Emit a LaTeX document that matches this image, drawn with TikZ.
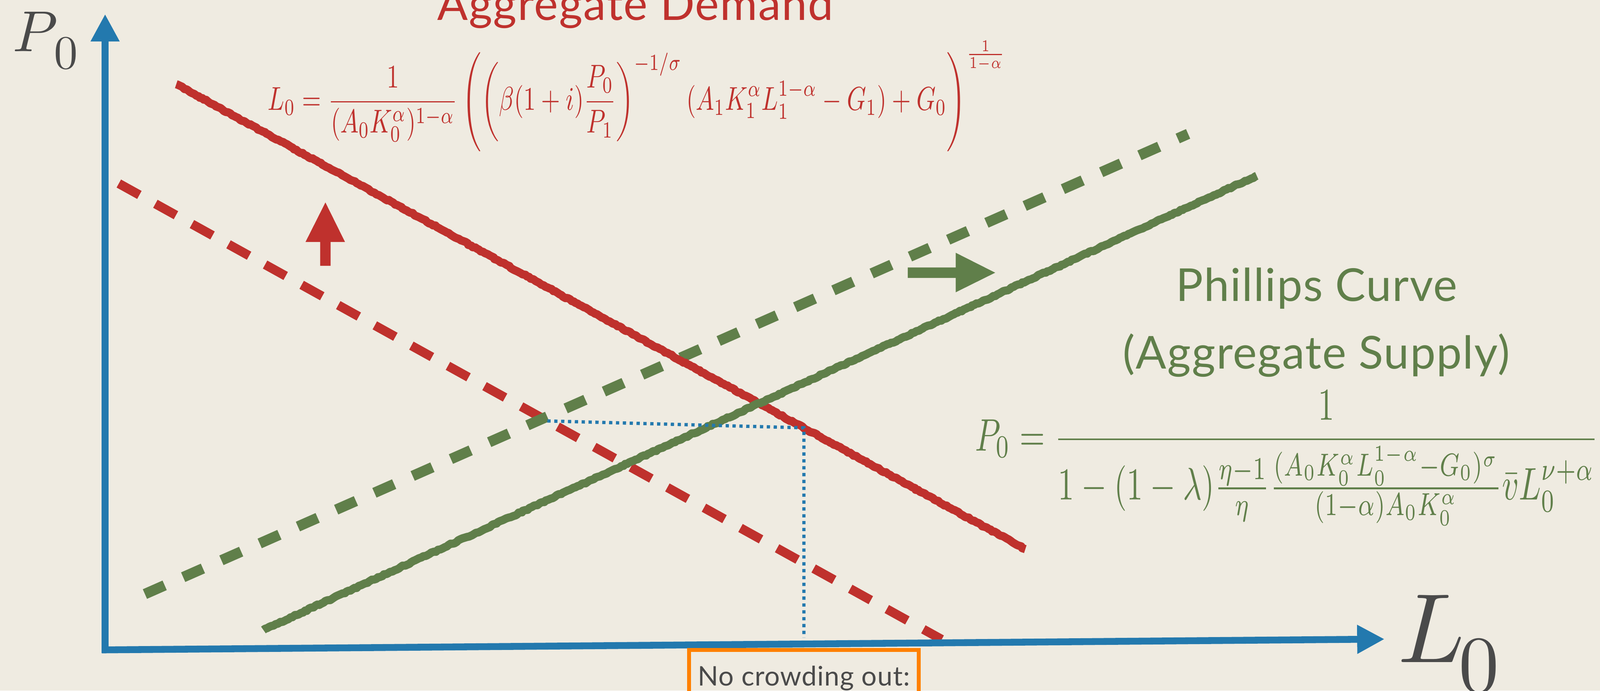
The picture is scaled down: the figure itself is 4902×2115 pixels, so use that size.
\documentclass[tikz,border=0pt]{standalone}
\usepackage{fontspec}
\usepackage{amsmath}
\usepackage{graphicx}
\usetikzlibrary{arrows.meta,decorations.pathmorphing}
\newfontfamily\avenir{Lato}[LetterSpace=2]
\definecolor{bgc}{HTML}{EFEBE1}
\definecolor{adred}{HTML}{BF312D}
\definecolor{pcgreen}{HTML}{607F4A}
\definecolor{axblue}{HTML}{2379AE}
\definecolor{txtgray}{HTML}{4A4A4A}
\definecolor{boxorange}{HTML}{FF8000}
\newcommand{\axlabel}[1]{\mbox{$#1$\kern-0.06em\raisebox{-0.3em}{\scalebox{0.82}{0}}}}
\begin{document}
\begin{tikzpicture}[x=0.01cm,y=-0.01cm,
  axisline/.style={draw=axblue, line width=0.21cm, -{Triangle[length=0.84cm,width=0.83cm]}},
  chalk/.style={line join=round, decorate, decoration={random steps, segment length=0.07cm, amplitude=0.02cm}},
  adsolid/.style={draw=adred, line width=0.25cm, chalk},
  addash/.style={draw=adred, line width=0.28cm, dash pattern=on 0.72cm off 0.56cm},
  pcsolid/.style={draw=pcgreen, line width=0.25cm, chalk},
  pcdash/.style={draw=pcgreen, line width=0.32cm, dash pattern=on 0.66cm off 0.62cm},
  guide/.style={draw=axblue, line width=0.1cm, dash pattern=on 0.1cm off 0.11cm},
  sanslabel/.style={font=\avenir\fontsize{39.5}{42}\selectfont, inner sep=0},
  eqlabel/.style={anchor=base west, inner sep=0}]
\useasboundingbox (0,0) rectangle (4902,2115);
\clip (0,0) rectangle (4902,2115);
\fill[bgc] (0,0) rectangle (4902,2115);

% coordinates
\coordinate (ybot) at (322,2000);
\coordinate (ytip) at (322,43);
\coordinate (xleft) at (312,1990);
\coordinate (xtip) at (4242,1957);
\coordinate (adA) at (540,258);
\coordinate (adB) at (3142,1682);
\coordinate (ad2A) at (364,562);
\coordinate (ad2B) at (2885,1958);
\coordinate (pcA) at (807,1929);
\coordinate (pcB) at (3851,538);
\coordinate (pc2A) at (444,1819);
\coordinate (pc2B) at (3640,410);
\coordinate (g1) at (1677,1289);
\coordinate (g2) at (2463,1310);
\coordinate (g3) at (2463,1953);

% curves
\draw[addash] (ad2A) -- (ad2B);
\draw[pcdash] (pc2A) -- (pc2B);
\draw[adsolid] (adA) -- (adB);
\draw[pcsolid] (pcA) -- (pcB);
\draw[guide] (g1) -- (g2) -- (g3);

% axes
\draw[axisline] (ybot) -- (ytip);
\draw[axisline] (xleft) -- (xtip);

% shift arrows
\fill[adred] (981,814) -- (981,741) -- (936,741) -- (997,620) -- (1057,741) -- (1013,741) -- (1013,814) -- cycle;
\fill[pcgreen] (2781,819) -- (2928,819) -- (2928,774) -- (3049,835) -- (2928,895) -- (2928,851) -- (2781,851) -- cycle;

% axis labels
\node[anchor=base west, inner sep=0, text=txtgray] (plab) at (38,157) {\resizebox{2.0cm}{!}{\axlabel{P}}};
\node[anchor=base west, inner sep=0, text=txtgray] (llab) at (4282,2028) {\resizebox{3.1cm}{!}{\axlabel{L}}};

% titles
\node[sanslabel, text=adred, anchor=base west] (adtitle) at (1339,62) {Aggregate Demand};
\node[sanslabel, text=pcgreen, anchor=base] (pct1) at (4034,922) {Phillips Curve};
\node[sanslabel, text=pcgreen, anchor=base] (pct2) at (4033,1129) {(Aggregate Supply)};

% equations
\node[eqlabel, text=adred] (adeq) at (820,337) {\scalebox{1}[1.35]{\resizebox{22.6cm}{!}{$\displaystyle L_0=\frac{1}{(A_0K_0^\alpha)^{1-\alpha}}\left(\left(\beta(1+i)\frac{P_0}{P_1}\right)^{-1/\sigma}(A_1K_1^\alpha L_1^{1-\alpha}-G_1)+G_0\right)^{\frac{1}{1-\alpha}}$}}};
\node[eqlabel, text=pcgreen] (pceq) at (2987,1380) {\scalebox{1}[1.4]{\resizebox{19.08cm}{!}{$\displaystyle P_0=\frac{1}{1-(1-\lambda)\frac{\eta-1}{\eta}\frac{(A_0K_0^\alpha L_0^{1-\alpha}-G_0)^\sigma}{(1-\alpha)A_0K_0^\alpha}\bar{v}L_0^{\nu+\alpha}}$}}};

% crowding box
\draw[boxorange, line width=0.12cm] (2111,1990) rectangle (2815,2300);
\node[anchor=base, inner sep=0, text=txtgray, font=\avenir\fontsize{23.5}{25}\selectfont] (crowd) at (2463,2100) {No crowding out:};
\end{tikzpicture}
\end{document}
